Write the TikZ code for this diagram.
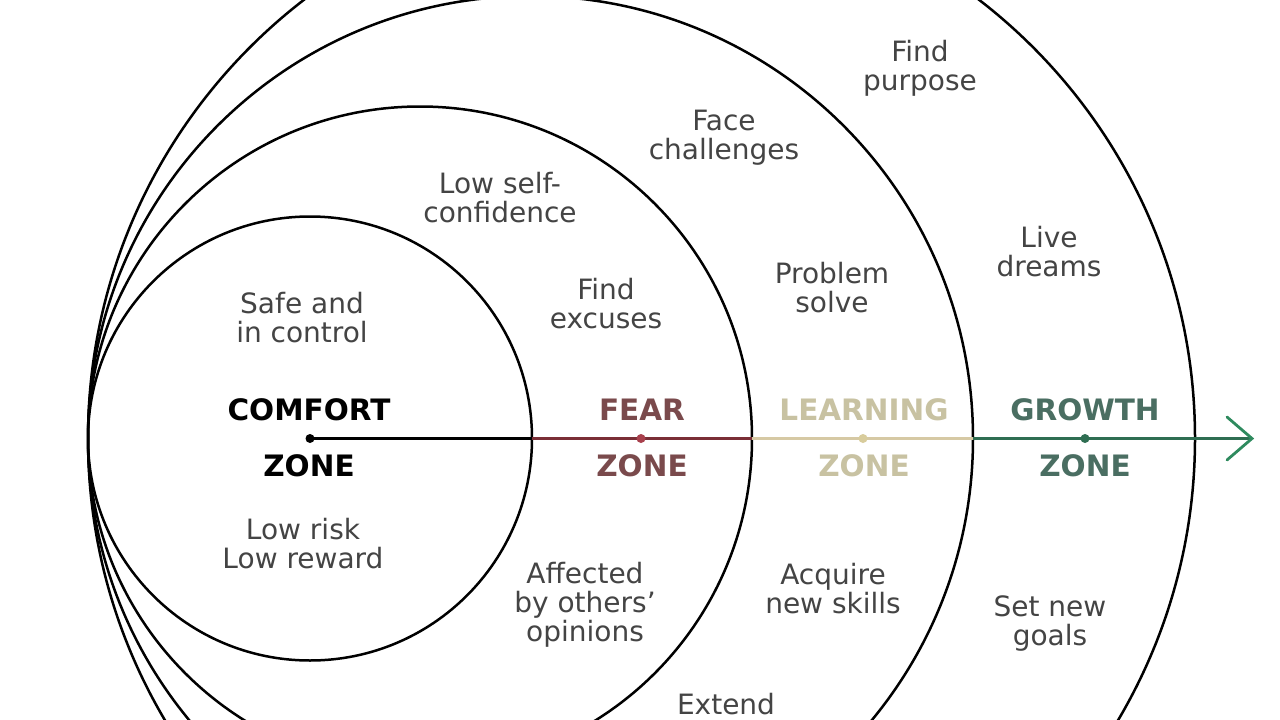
\documentclass[tikz,border=0pt]{standalone}
\usepackage{fontspec}
\setmainfont{DejaVu Sans}
\usetikzlibrary{arrows.meta}
\definecolor{bodygray}{HTML}{444444}
\definecolor{fearcol}{HTML}{7A4A4C}
\definecolor{fearline}{HTML}{7A2E36}
\definecolor{feardot}{HTML}{A8404C}
\definecolor{learncol}{HTML}{C8C2A2}
\definecolor{learnline}{HTML}{D6C9A4}
\definecolor{learndot}{HTML}{D8CC9C}
\definecolor{growcol}{HTML}{4A6E62}
\definecolor{growline}{HTML}{2F6E52}
\definecolor{growarrow}{HTML}{2E8A5E}
\tikzset{
  zonecircle/.style={circle, draw=black, line width=2.5pt, inner sep=0pt, outer sep=0pt},
  bodytext/.style={align=center, text=bodygray, inner sep=0pt,
    font=\fontsize{28}{29}\selectfont},
  zonelabel/.style={inner sep=0pt, font=\fontsize{29.5}{32}\selectfont\bfseries},
  zonedot/.style={circle, inner sep=0pt, minimum size=9pt},
  axisline/.style={line width=2.5pt}
}
\begin{document}
\begin{tikzpicture}[x=1pt,y=-1pt]
\useasboundingbox (0,0) rectangle (1280,720);
\clip (0,0) rectangle (1280,720);
\fill[white] (0,0) rectangle (1280,720);
% circles
\node[zonecircle, minimum size=444pt] (c1) at (310,438.5) {};
\node[zonecircle, minimum size=664pt] (c2) at (420,438.5) {};
\node[zonecircle, minimum size=885pt] (c3) at (530.5,438.5) {};
\node[zonecircle, minimum size=1107pt] (c4) at (641.5,438.5) {};
% axis
\coordinate (tip) at (1252,438.5);
\draw[axisline, black] (310,438.5) coordinate (d1) -- (c1.east);
\draw[axisline, fearline] (c1.east) -- (c2.east);
\draw[axisline, learnline] (c2.east) -- (c3.east);
\draw[axisline, growline] (c3.east) -- (tip);
\draw[line width=2.8pt, growarrow, line cap=round, line join=miter]
  (1227,417) -- (tip) -- (1227,460);
\node[zonedot, fill=black] (p1) at (d1) {};
\node[zonedot, fill=feardot] (p2) at (641,438.5) {};
\node[zonedot, fill=learndot] (p3) at (863,438.5) {};
\node[zonedot, fill=growline] (p4) at (1085,438.5) {};
% zone labels
\node[zonelabel, text=black] (l1) at (309,410) {COMFORT};
\node[zonelabel, text=black] (z1) at (309,466) {ZONE};
\node[zonelabel, text=fearcol] (l2) at (642,410) {FEAR};
\node[zonelabel, text=fearcol] (z2) at (642,466) {ZONE};
\node[zonelabel, text=learncol] (l3) at (864,410) {LEARNING};
\node[zonelabel, text=learncol] (z3) at (864,466) {ZONE};
\node[zonelabel, text=growcol] (l4) at (1085,410) {GROWTH};
\node[zonelabel, text=growcol] (z4) at (1085,466) {ZONE};
% body texts
\node[bodytext] (t1) at (302,318) {Safe and\\in control};
\node[bodytext] (t2) at (303,544) {Low risk\\Low reward};
\node[bodytext] (t3) at (500,198) {Low self-\\confidence};
\node[bodytext] (t4) at (606,304) {Find\\excuses};
\node[bodytext] (t5) at (585,605) {Affected\\by others’\\opinions};
\node[bodytext] (t6) at (724,138) {Face\\challenges};
\node[bodytext] (t7) at (832,288) {Problem\\solve};
\node[bodytext] (t8) at (833,589) {Acquire\\new skills};
\node[bodytext, anchor=base] (t9) at (726,714) {Extend};
\node[bodytext] (t10) at (920,68) {Find\\purpose};
\node[bodytext] (t11) at (1049,252) {Live\\dreams};
\node[bodytext] (t12) at (1050,624) {Set new\\goals};
\end{tikzpicture}
\end{document}
